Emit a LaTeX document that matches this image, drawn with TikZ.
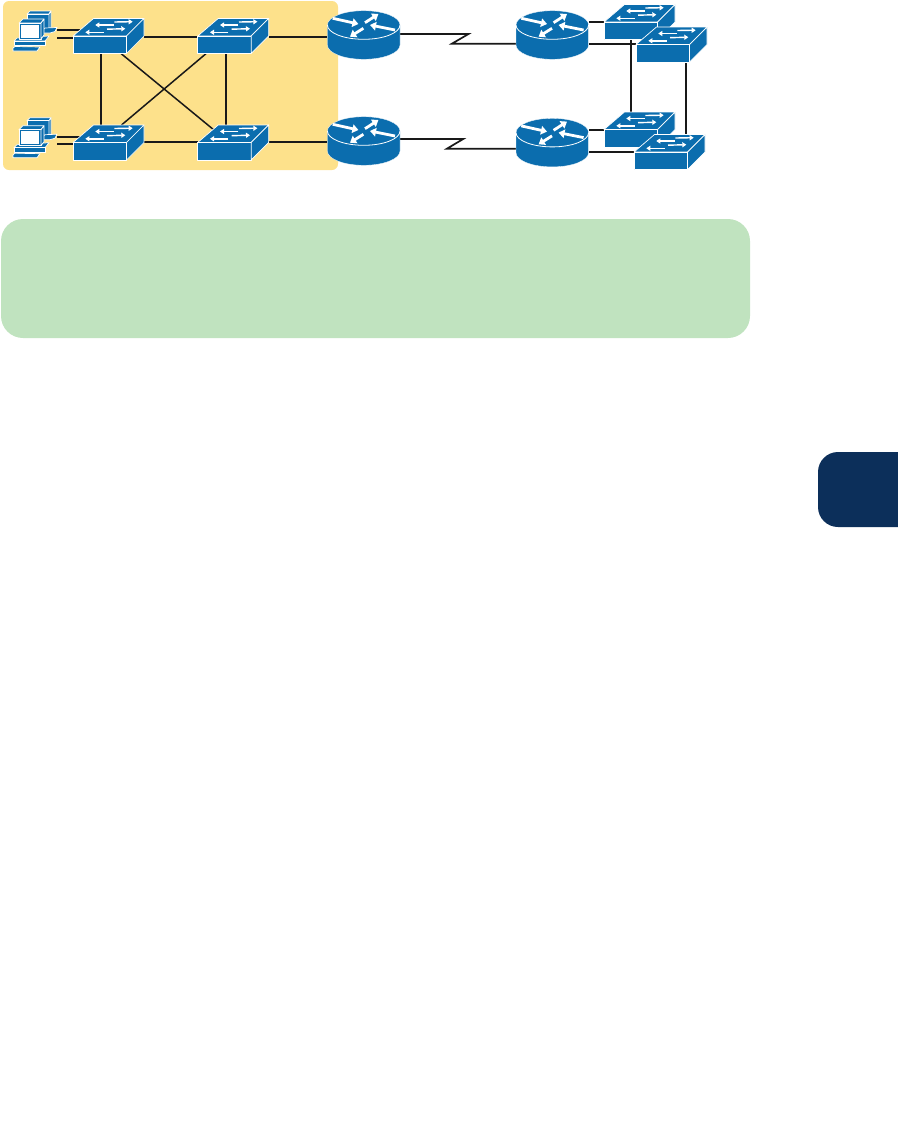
\documentclass[tikz,border=0pt]{standalone}
\usepackage{tikz}
\usetikzlibrary{arrows.meta}

\definecolor{ciscoblue}{HTML}{0B6DAE}
\definecolor{sandbg}{HTML}{FDE18B}
\definecolor{mintbg}{HTML}{C0E3BF}
\definecolor{tabnavy}{HTML}{0C2F5A}

\begin{document}
\begin{tikzpicture}[
  x=1pt, y=-1pt,
  swbox/.style={inner sep=0pt, outer sep=0pt, minimum width=71pt, minimum height=35pt},
  rtbox/.style={inner sep=0pt, outer sep=0pt, minimum width=73pt, minimum height=49pt},
  pcbox/.style={inner sep=0pt, outer sep=0pt, minimum width=44pt, minimum height=41pt},
  link/.style={draw=black!90, line width=1.7pt},
  face/.style={fill=ciscoblue, draw=white, line width=0.7pt, line join=round},
  flow/.style={white, line width=1.4pt, -{Triangle[width=5pt, length=4pt]}},
  swicon/.pic={
    % drawn around the centre of the box
    \path[face] (-35.5,0) -- (-15,-17.5) -- (35.5,-17.5) -- (18,0) -- cycle;
    \path[face] (-35.5,0) rectangle (18,17.5);
    \path[face] (18,0) -- (35.5,-17.5) -- (35.5,0) -- (18,17.5) -- cycle;
    \draw[flow] (5.2,-11) -- (-13.2,-11);
    \draw[flow] (5.8,-14) -- (24.2,-14.3);
    \draw[flow] (-4.8,-3.7) -- (-23.2,-3.7);
    \draw[flow] (-1.5,-6.8) -- (16.8,-7.3);
  },
  rticon/.pic={
    % centre of the top disc is 10 above the box centre
    \fill[ciscoblue, draw=white, line width=0.3pt] (-36.3,-10) -- (-36.3,10)
      arc[start angle=180, end angle=0, x radius=36.3, y radius=14.3] -- (36.3,-10)
      arc[start angle=0, end angle=-180, x radius=36.3, y radius=14.3] -- cycle;
    \draw[white, line width=0.8pt] (-36.3,-10)
      arc[start angle=180, end angle=0, x radius=36.3, y radius=14.3];
    \foreach \ax/\ay/\bx/\by in {-31/-16.7/-5.3/-11, 1.3/-12.3/14.7/-21, 31.3/-5/6.3/-10, -0.3/-6.7/-13.7/1.7}
      \draw[white, line width=2.8pt, -{Triangle[width=8.5pt, length=6pt]}] (\ax,\ay) -- (\bx,\by);
  },
  pcicon/.pic={
    % back computer, then front computer
    \path[face] (-8,-17.5) -- (-5,-20.5) -- (16,-20.5) -- (14,-17.5) -- cycle;
    \path[face] (-8,-17.5) rectangle (14,-1.5);
    \path[face] (14,-17.5) -- (16,-20.5) -- (16,-3.5) -- (14,-1.5) -- cycle;
    \path[face] (6,0) -- (10,-3.5) -- (22,-4) -- (20,0) -- (15,1.5) -- (6,1.5) -- cycle;
    \path[face] (-21,9.5) -- (-18,6.5) -- (14,4.5) -- (10,9.5) -- cycle;
    \path[face] (-21,9.5) rectangle (10,14);
    \path[face] (-22,16.5) -- (-20,15) -- (5,15.5) -- (2,19.5) -- (-22,19.5) -- cycle;
    \path[face] (-16,-8.5) -- (-12,-12.5) -- (9,-12.5) -- (6,-8.5) -- cycle;
    \path[face] (-16,-8.5) rectangle (6,7.5);
    \path[face] (6,-8.5) -- (9,-12.5) -- (9,3.5) -- (6,7.5) -- cycle;
    \fill[white] (-14.5,-7) rectangle (4,6);
  },
]
\useasboundingbox (0,0) rectangle (897,1146);

% backgrounds
\fill[sandbg, rounded corners=6pt] (3,1) rectangle (338,170);
\node[fill=mintbg, rounded corners=22pt, inner sep=0pt, outer sep=0pt, minimum width=749pt, minimum height=119pt] (notebox) at (375.5,278.5) {};
\fill[tabnavy, rounded corners=20pt] (818,452) rectangle (940,527);

% devices, left to right
\node[pcbox] (pca) at (35,31.5) {};
\node[pcbox] (pcb) at (35,138.2) {};
\node[swbox] (swa) at (108.5,36) {};
\node[swbox] (swb) at (233.2,36) {};
\node[swbox] (swc) at (108.5,142.5) {};
\node[swbox] (swd) at (233.2,142.5) {};
\node[rtbox] (rta) at (363.7,35) {};
\node[rtbox] (rtb) at (363.7,141) {};
\node[rtbox] (rtc) at (552.3,35) {};
\node[rtbox] (rtd) at (552.3,142.6) {};
\node[swbox] (swe) at (639.5,22) {};
\node[swbox] (swf) at (671.5,44.5) {};
\node[swbox] (swg) at (639.5,129.5) {};
\node[swbox] (swh) at (669.5,152) {};

% LAN links
\draw[link] ([yshift=1.5pt]pca.east) -- ([xshift=8pt, yshift=1.5pt]pca.east -| swa.west);
\draw[link] ([yshift=-6.2pt]pca.east) -- ([xshift=8pt, yshift=-6.2pt]pca.east -| swa.west);
\draw[link] ([yshift=1.5pt]pcb.east) -- ([xshift=8pt, yshift=1.5pt]pcb.east -| swc.west);
\draw[link] ([yshift=-5.8pt]pcb.east) -- ([xshift=8pt, yshift=-5.8pt]pcb.east -| swc.west);
\draw[link] ([yshift=-0.7pt]swa.east) -- ([yshift=-0.7pt]swb.west);
\draw[link] ([yshift=0.8pt]swc.east) -- ([yshift=0.8pt]swd.west);
\draw[link] ([xshift=-7.8pt]swa.south) -- ([xshift=-7.8pt]swc.north);
\draw[link] ([xshift=-7.2pt]swb.south) -- ([xshift=-7.2pt]swd.north);
\draw[link, line width=1.5pt] ([xshift=12.5pt]swa.south) -- ([xshift=-18pt, yshift=-6pt]swd.north);
\draw[link, line width=1.5pt] ([xshift=-27pt]swb.south) -- ([xshift=13pt]swc.north);
\draw[link] ([yshift=-0.7pt]swb.east) -- ([yshift=-1.7pt]rta.west);
\draw[link] ([yshift=0.8pt]swd.east) -- ([yshift=-0.7pt]rtb.west);

% serial links
\draw[link] ([yshift=1pt]rta.east) -- ++(68.3,0) -- ++(-16.6,9.7) -- ([yshift=-8.7pt]rtc.west);
\draw[link] ([yshift=2pt]rtb.east) -- ++(63,0) -- ++(-16.3,9.7) -- ([yshift=-6.1pt]rtd.west);

% branch links
\draw[link] ([yshift=13pt]rtc.east) -- (swe.west);
\draw[link] ([yshift=-8.7pt]rtc.east) -- ([yshift=0.8pt]swf.west);
\draw[link] ([yshift=12.6pt]rtd.east) -- ([yshift=-0.5pt]swg.west);
\draw[link] ([yshift=-9.4pt]rtd.east) -- (swh.west);
\draw[link] ([xshift=-8.5pt]swe.south) -- ([xshift=-8.5pt]swg.north);
\draw[link] ([xshift=14.5pt]swf.south) -- ([xshift=16.5pt, yshift=-4pt]swh.north);

% icons on top of the links
\foreach \pcname in {pca, pcb}
  \pic at (\pcname) {pcicon};
\foreach \rtname in {rta, rtb, rtc, rtd}
  \pic at (\rtname) {rticon};
\foreach \swname in {swa, swb, swc, swd, swe, swf, swg, swh}
  \pic at (\swname) {swicon};
\end{tikzpicture}
\end{document}
